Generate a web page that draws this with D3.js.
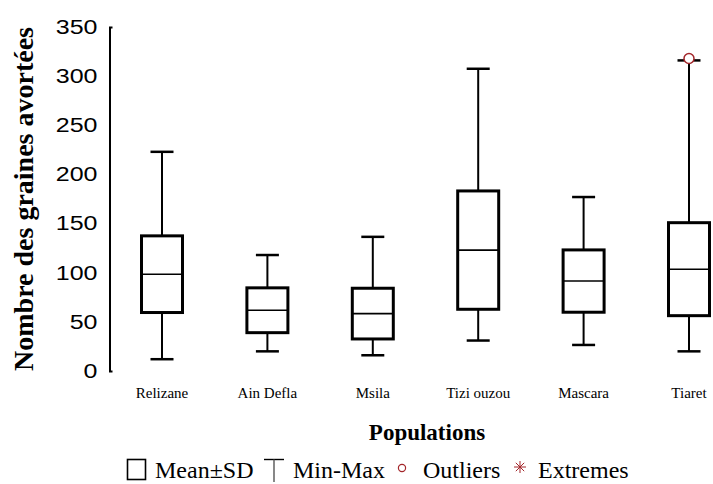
<!DOCTYPE html>
<html>
<head>
<meta charset="utf-8">
<script src="https://cdn.jsdelivr.net/npm/d3@7"></script>
<style>
  html, body { margin: 0; padding: 0; background: #fff; }
  svg { display: block; }
</style>
</head>
<body>
<svg id="chart" width="713" height="484"></svg>
<script>
// Number of aborted seeds per population: mean ± SD box, min–max whiskers
const categories = ["Relizane", "Ain Defla", "Msila", "Tizi ouzou", "Mascara", "Tiaret"];
const means = [98.5, 61.8, 58.4, 123.0, 91.5, 103.6];
const sds   = [39.0, 22.8, 25.8, 60.2, 31.7, 47.3];
const mins  = [12, 20, 16, 31, 26.5, 20];
const maxs  = [223, 118, 136.5, 307.5, 177, 316];
const outliers = [{ category: "Tiaret", value: 318 }];
const yTicks = [0, 50, 100, 150, 200, 250, 300, 350];

const rows = categories.map((c, i) => ({
  category: c, mean: means[i], sd: sds[i], min: mins[i], max: maxs[i]
}));

const svg = d3.select("#chart");
const RED = "#a3262a";

const x = d3.scaleBand().domain(categories).range([109.3, 741.7]);
const y = d3.scaleLinear().domain([0, 350]).range([371, 27]);

const boxW = 41, capW = 23;
const cx = d => x(d) + x.bandwidth() / 2;

// y axis: plain spine with short inward end caps, no tick marks
const yAxis = d3.axisLeft(y).tickValues(yTicks).tickSizeInner(0).tickSizeOuter(-3).tickPadding(0);
const gy = svg.append("g").attr("transform", "translate(109.5,0)").call(yAxis);
gy.select(".domain").attr("stroke", "#000").attr("stroke-width", 2);
gy.selectAll(".tick line").remove();
gy.selectAll(".tick text")
  .attr("x", 0)
  .attr("transform", "translate(-12,0) scale(1.25,1)")
  .attr("font-family", "'Liberation Sans', Arial, sans-serif")
  .attr("font-size", 20)
  .attr("fill", "#000");

// category labels (no x axis line)
const gx = svg.append("g").attr("transform", "translate(0,371)")
  .call(d3.axisBottom(x).tickSize(0).tickPadding(0));
gx.select(".domain").remove();
gx.selectAll(".tick text")
  .attr("y", 27).attr("dy", 0)
  .attr("font-family", "'Liberation Serif', 'Times New Roman', serif")
  .attr("font-size", 15)
  .attr("fill", "#000");

// whiskers
const g = svg.append("g");
g.selectAll(".whisker").data(rows).join("line")
  .attr("x1", d => cx(d.category)).attr("x2", d => cx(d.category))
  .attr("y1", d => y(d.max)).attr("y2", d => y(d.min))
  .attr("stroke", "#000").attr("stroke-width", 2);
g.selectAll(".capTop").data(rows).join("line")
  .attr("x1", d => cx(d.category) - capW / 2).attr("x2", d => cx(d.category) + capW / 2)
  .attr("y1", d => y(d.max)).attr("y2", d => y(d.max))
  .attr("stroke", "#000").attr("stroke-width", 2.5);
g.selectAll(".capBot").data(rows).join("line")
  .attr("x1", d => cx(d.category) - capW / 2).attr("x2", d => cx(d.category) + capW / 2)
  .attr("y1", d => y(d.min)).attr("y2", d => y(d.min))
  .attr("stroke", "#000").attr("stroke-width", 2.5);

// mean ± SD boxes
g.selectAll(".box").data(rows).join("rect")
  .attr("x", d => cx(d.category) - boxW / 2)
  .attr("width", boxW)
  .attr("y", d => y(d.mean + d.sd))
  .attr("height", d => y(d.mean - d.sd) - y(d.mean + d.sd))
  .attr("fill", "#fff").attr("stroke", "#000").attr("stroke-width", 3);

// mean line
g.selectAll(".mean").data(rows).join("line")
  .attr("x1", d => cx(d.category) - boxW / 2).attr("x2", d => cx(d.category) + boxW / 2)
  .attr("y1", d => y(d.mean)).attr("y2", d => y(d.mean))
  .attr("stroke", "#000").attr("stroke-width", 1.6);

// outliers
g.selectAll(".outlier").data(outliers).join("circle")
  .attr("cx", d => cx(d.category)).attr("cy", d => y(d.value)).attr("r", 5)
  .attr("fill", "#fff").attr("stroke", RED).attr("stroke-width", 1.5);

// axis titles
svg.append("text")
  .attr("transform", "translate(33,199) rotate(-90)")
  .attr("text-anchor", "middle")
  .attr("font-family", "'Liberation Serif', 'Times New Roman', serif")
  .attr("font-weight", "bold").attr("font-size", 28)
  .text("Nombre des graines avortées");

svg.append("text")
  .attr("x", 427).attr("y", 440)
  .attr("text-anchor", "middle")
  .attr("font-family", "'Liberation Serif', 'Times New Roman', serif")
  .attr("font-weight", "bold").attr("font-size", 23)
  .text("Populations");

// legend
const lg = svg.append("g")
  .attr("font-family", "'Liberation Serif', 'Times New Roman', serif")
  .attr("font-size", 24).attr("fill", "#000");
const base = 478;
lg.append("rect").attr("x", 127.5).attr("y", 459.5).attr("width", 18).attr("height", 20)
  .attr("fill", "#fff").attr("stroke", "#000").attr("stroke-width", 1.6);
lg.append("text").attr("x", 155).attr("y", base).text("Mean±SD");
lg.append("line").attr("x1", 264).attr("x2", 284).attr("y1", 459.5).attr("y2", 459.5)
  .attr("stroke", "#000").attr("stroke-width", 1.4);
lg.append("line").attr("x1", 274).attr("x2", 274).attr("y1", 459.5).attr("y2", 482)
  .attr("stroke", "#555").attr("stroke-width", 1.4);
lg.append("text").attr("x", 293).attr("y", base).text("Min-Max");
lg.append("circle").attr("cx", 402).attr("cy", 468).attr("r", 3.6)
  .attr("fill", "none").attr("stroke", RED).attr("stroke-width", 1.2);
lg.append("text").attr("x", 423).attr("y", base).text("Outliers");
const ax = 520, ay = 467, ar = 6;
lg.append("path")
  .attr("d", `M${ax - ar},${ay}H${ax + ar}M${ax},${ay - ar}V${ay + ar}` +
             `M${ax - ar * 0.7},${ay - ar * 0.7}L${ax + ar * 0.7},${ay + ar * 0.7}` +
             `M${ax - ar * 0.7},${ay + ar * 0.7}L${ax + ar * 0.7},${ay - ar * 0.7}`)
  .attr("stroke", RED).attr("stroke-width", 1).attr("fill", "none");
lg.append("text").attr("x", 538).attr("y", base).text("Extremes");
</script>
</body>
</html>
